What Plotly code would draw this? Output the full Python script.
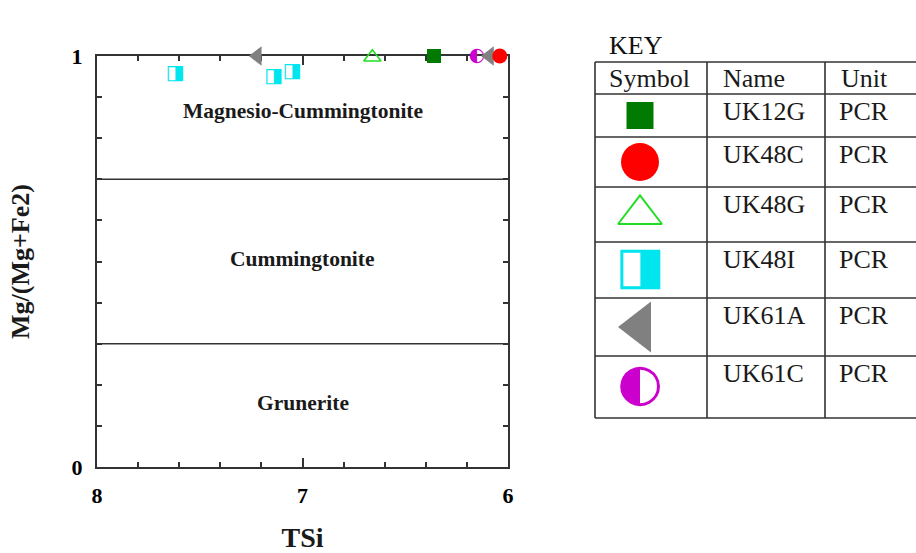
import plotly.graph_objects as go

# ---------------- data ----------------
sample_names = ["UK12G", "UK48C", "UK48G", "UK48I", "UK61A", "UK61C"]
sample_units = ["PCR", "PCR", "PCR", "PCR", "PCR", "PCR"]

uk12g_tsi = [6.36]
uk12g_mg = [1.0]
uk48c_tsi = [6.04]
uk48c_mg = [1.0]
uk48g_tsi = [6.66]
uk48g_mg = [0.997]
uk48i_tsi = [7.62, 7.14, 7.05]
uk48i_mg = [0.956, 0.949, 0.961]
uk61a_tsi = [7.22, 6.09]
uk61a_mg = [1.0, 1.0]
uk61c_tsi = [6.15]
uk61c_mg = [1.0]

field_bounds = [0.7, 0.3]
field_names = ["Magnesio-Cummingtonite", "Cummingtonite", "Grunerite"]
field_label_y = [0.866, 0.505, 0.156]
field_label_x = 7.0

x_ticks = [8, 7, 6]
y_ticks = [0, 1]

# ---------------- styles ----------------
W, H = 916, 553
SERIF = "Liberation Serif"
AX = "#333333"
TXT = "#1a1a1a"

fig = go.Figure()

# main plot traces
fig.add_trace(go.Scatter(x=uk48i_tsi, y=uk48i_mg, mode="text", text=["◨"] * len(uk48i_tsi),
                         textfont=dict(family="DejaVu Sans", size=20, color="#00e5ee"),
                         cliponaxis=False, showlegend=False))
fig.add_trace(go.Scatter(x=uk48g_tsi, y=uk48g_mg, mode="markers",
                         marker=dict(symbol="triangle-up-open", size=15, color="#22dd22",
                                     line=dict(width=1.6, color="#22dd22")),
                         cliponaxis=False, showlegend=False))
fig.add_trace(go.Scatter(x=uk12g_tsi, y=uk12g_mg, mode="markers",
                         marker=dict(symbol="square", size=14, color="#007a00"),
                         cliponaxis=False, showlegend=False))
fig.add_trace(go.Scatter(x=uk61c_tsi, y=uk61c_mg, mode="text", text=["◐"] * len(uk61c_tsi),
                         textfont=dict(family="DejaVu Sans", size=19, color="#cc00cc"),
                         cliponaxis=False, showlegend=False))
fig.add_trace(go.Scatter(x=uk61a_tsi, y=uk61a_mg, mode="markers",
                         marker=dict(symbol="triangle-left", size=17, color="#808080"),
                         cliponaxis=False, showlegend=False))
fig.add_trace(go.Scatter(x=uk48c_tsi, y=uk48c_mg, mode="markers",
                         marker=dict(symbol="circle", size=15, color="#ff0000"),
                         cliponaxis=False, showlegend=False))

# field boundaries
for b in field_bounds:
    fig.add_shape(type="line", xref="x", yref="y", x0=x_ticks[0], x1=x_ticks[-1], y0=b, y1=b,
                  line=dict(color=AX, width=1.6))
for name, fy in zip(field_names, field_label_y):
    fig.add_annotation(x=field_label_x, y=fy, xref="x", yref="y", text=name, showarrow=False,
                       font=dict(family=SERIF, size=21.5, color=TXT, weight="bold"))

# ---------------- key table (pixel axis) ----------------
col_x = [595, 707, 825, 930]
row_y = [62, 94, 137, 187, 242, 298, 356, 418]
for cx in col_x[:-1]:
    fig.add_shape(type="line", xref="x2", yref="y2", x0=cx, x1=cx, y0=row_y[0], y1=row_y[-1],
                  line=dict(color=AX, width=1.6))
for ry in row_y:
    fig.add_shape(type="line", xref="x2", yref="y2", x0=col_x[0], x1=col_x[-1], y0=ry, y1=ry,
                  line=dict(color=AX, width=1.6))

fig.add_annotation(x=607, y=45, xref="x2", yref="y2", text="KEY", showarrow=False,
                   xanchor="left", yanchor="middle", font=dict(family=SERIF, size=26, color="#111111"))
headers = ["Symbol", "Name", "Unit"]
for i, h in enumerate(headers):
    fig.add_annotation(x=col_x[i] + (12 if i == 0 else 14), y=(row_y[0] + row_y[1]) / 2,
                       xref="x2", yref="y2", text=h, showarrow=False, xanchor="left",
                       yanchor="middle", font=dict(family=SERIF, size=26, color=TXT))
for k, (nm, un) in enumerate(zip(sample_names, sample_units)):
    ty = row_y[k + 1] + 17
    fig.add_annotation(x=col_x[1] + 14, y=ty, xref="x2", yref="y2", text=nm, showarrow=False,
                       xanchor="left", yanchor="middle", font=dict(family=SERIF, size=26, color=TXT))
    fig.add_annotation(x=col_x[2] + 12, y=ty, xref="x2", yref="y2", text=un, showarrow=False,
                       xanchor="left", yanchor="middle", font=dict(family=SERIF, size=26, color=TXT))

key_x = 640
key_mid = [(row_y[k + 1] + row_y[k + 2]) / 2 for k in range(len(sample_names))]
key_styles = [
    dict(mode="markers", marker=dict(symbol="square", size=27, color="#007a00")),
    dict(mode="markers", marker=dict(symbol="circle", size=38, color="#ff0000")),
    dict(mode="markers", marker=dict(symbol="triangle-up-open", size=38, color="#22dd22",
                                     line=dict(width=2, color="#22dd22"))),
    dict(mode="text", text=["◨"], textfont=dict(family="DejaVu Sans", size=52, color="#00e5ee")),
    dict(mode="markers", marker=dict(symbol="triangle-left", size=44, color="#808080")),
    dict(mode="text", text=["◐"], textfont=dict(family="DejaVu Sans", size=52, color="#cc00cc")),
]
for k, st in enumerate(key_styles):
    fig.add_trace(go.Scatter(x=[key_x], y=[key_mid[k]], xaxis="x2", yaxis="y2",
                             cliponaxis=False, showlegend=False, **st))

# ---------------- layout ----------------
tickfont = dict(family=SERIF, size=22, color="#000000", weight="bold")
fig.update_layout(
    width=W, height=H,
    margin=dict(l=0, r=0, t=0, b=0, autoexpand=False),
    paper_bgcolor="white", plot_bgcolor="rgba(0,0,0,0)",
    showlegend=False,
    xaxis=dict(domain=[97 / W, 508 / W], range=[8, 6], tickvals=x_ticks, automargin=False,
               ticks="inside", ticklen=9, tickwidth=1.6, tickcolor=AX,
               showline=True, linecolor=AX, linewidth=2, mirror="allticks",
               showgrid=False, zeroline=False, layer="below traces",
               minor=dict(dtick=0.2, ticks="inside", ticklen=5, tickwidth=1.6,
                          tickcolor=AX, showgrid=False),
               tickfont=tickfont, ticklabelstandoff=8,
               title=dict(text="TSi", font=dict(family=SERIF, size=28, color=TXT, weight="bold"),
                          standoff=22)),
    yaxis=dict(domain=[(H - 467) / H, (H - 56) / H], range=[0, 1], tickvals=y_ticks, automargin=False,
               ticks="inside", ticklen=9, tickwidth=1.6, tickcolor=AX,
               showline=True, linecolor=AX, linewidth=2, mirror="allticks",
               showgrid=False, zeroline=False, layer="below traces",
               minor=dict(dtick=0.1, ticks="inside", ticklen=5, tickwidth=1.6,
                          tickcolor=AX, showgrid=False),
               tickfont=tickfont, ticklabelstandoff=8,
               title=dict(text="Mg/(Mg+Fe2)", font=dict(family=SERIF, size=26, color=TXT, weight="bold"),
                          standoff=34)),
    xaxis2=dict(domain=[560 / W, 1.0], range=[560, W], visible=False, fixedrange=True,
                automargin=False, anchor="y2"),
    yaxis2=dict(domain=[0, 1], range=[H, 0], visible=False, fixedrange=True, anchor="x2",
                automargin=False),
)

fig.write_html("out.html")
